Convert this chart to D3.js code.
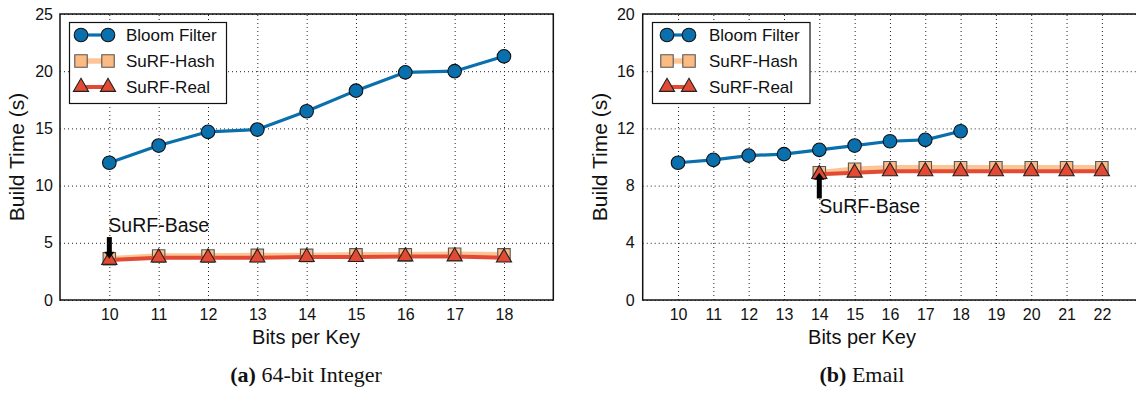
<!DOCTYPE html>
<html>
<head>
<meta charset="utf-8">
<script src="https://cdn.jsdelivr.net/npm/d3@7/dist/d3.min.js"></script>
<style>
  body { margin: 0; background: #fff; }
  svg { display: block; }
  .tick text { font-family: "Liberation Sans", Arial, sans-serif; font-size: 16px; fill: #111; }
</style>
</head>
<body>
<svg id="chart" width="1136" height="398"></svg>
<script>
// ---------- data ----------
const seriesNames = ["Bloom Filter", "SuRF-Hash", "SuRF-Real"];

// Panel (a) 64-bit Integer
const intBits = [10, 11, 12, 13, 14, 15, 16, 17, 18];
const intBloom = [12.0, 13.5, 14.7, 14.9, 16.5, 18.3, 19.9, 20.0, 21.3];
const intHash = [3.6, 3.85, 3.85, 3.9, 3.9, 3.95, 3.95, 4.0, 3.95];
const intReal = [3.5, 3.7, 3.7, 3.7, 3.75, 3.75, 3.8, 3.8, 3.7];
const intYTicks = [0, 5, 10, 15, 20, 25];
const intXTicks = [10, 11, 12, 13, 14, 15, 16, 17, 18];
const intBase = { x: 10, from: 5.5, to: 3.6 };

// Panel (b) Email
const emailBloomBits = [10, 11, 12, 13, 14, 15, 16, 17, 18];
const emailBloom = [9.6, 9.8, 10.1, 10.2, 10.5, 10.8, 11.1, 11.2, 11.8];
const emailSurfBits = [14, 15, 16, 17, 18, 19, 20, 21, 22];
const emailHash = [8.9, 9.15, 9.25, 9.25, 9.25, 9.25, 9.25, 9.25, 9.25];
const emailReal = [8.8, 8.9, 9.0, 9.0, 9.0, 9.0, 9.0, 9.0, 9.0];
const emailYTicks = [0, 4, 8, 12, 16, 20];
const emailXTicks = [10, 11, 12, 13, 14, 15, 16, 17, 18, 19, 20, 21, 22];
const emailBase = { x: 14, from: 7.1, to: 8.9 };

// ---------- styles ----------
const colors = { bloom: "#0a6fad", hash: "#fdbb84", real: "#e34a33" };
const FONT = '"Liberation Sans", Arial, sans-serif';
const SERIF = '"Liberation Serif", "DejaVu Serif", serif';

const svg = d3.select("#chart");
const plotTop = 14, plotBottom = 300;

function drawPanel(cfg) {
  const x = d3.scaleLinear().domain(cfg.xDomain).range([cfg.left, cfg.right]);
  const y = d3.scaleLinear().domain(cfg.yDomain).range([plotBottom, plotTop]);
  const g = svg.append("g");
  const clipId = "clip" + cfg.id;
  svg.append("clipPath").attr("id", clipId).append("rect")
    .attr("x", cfg.left).attr("y", plotTop).attr("width", cfg.right - cfg.left).attr("height", plotBottom - plotTop);

  // grid + x axis
  const xAxis = g.append("g").attr("transform", `translate(0,${plotBottom})`)
    .call(d3.axisBottom(x).tickValues(cfg.xTicks).tickSize(-(plotBottom - plotTop)).tickPadding(9).tickFormat(d3.format("d")));
  xAxis.select(".domain").remove();
  xAxis.selectAll(".tick line").attr("stroke", "#222").attr("stroke-dasharray", "1,3").attr("stroke-width", 1);

  const yAxis = g.append("g").attr("transform", `translate(${cfg.left},0)`)
    .call(d3.axisLeft(y).tickValues(cfg.yTicks).tickSize(-(cfg.right - cfg.left)).tickPadding(cfg.yPad).tickFormat(d3.format("d")));
  yAxis.select(".domain").remove();
  yAxis.selectAll(".tick line").attr("stroke", "#222").attr("stroke-dasharray", "1,3").attr("stroke-width", 1);

  // frame
  g.append("rect").attr("x", cfg.left).attr("y", plotTop)
    .attr("width", cfg.right - cfg.left).attr("height", plotBottom - plotTop)
    .attr("fill", "none").attr("stroke", "#111").attr("stroke-width", 1.5);

  const plot = g.append("g").attr("clip-path", `url(#${clipId})`);
  const line = d3.line().x(d => x(d[0])).y(d => y(d[1]));

  function series(xs, ys, color, lw, marker, lineOpacity) {
    const pts = xs.map((v, i) => [v, ys[i]]);
    plot.append("path").datum(pts).attr("d", line)
      .attr("fill", "none").attr("stroke", color).attr("stroke-width", lw)
      .attr("stroke-opacity", lineOpacity).attr("stroke-linejoin", "round");
    plot.selectAll(null).data(pts).enter().append("path")
      .attr("transform", d => `translate(${x(d[0])},${y(d[1])})`)
      .attr("d", marker.path)
      .attr("fill", color).attr("stroke", marker.stroke).attr("stroke-width", 1.1);
  }

  const circle = { path: d3.symbol(d3.symbolCircle, 145)(), stroke: "#111" };
  const square = { path: d3.symbol(d3.symbolSquare, 155)(), stroke: "#555" };
  const tri = { path: d3.symbol(d3.symbolTriangle, 100)(), stroke: "#222" };

  series(cfg.bloomX, cfg.bloom, colors.bloom, 3.2, circle, 1);
  series(cfg.surfX, cfg.hash, colors.hash, 5.5, square, 0.85);
  series(cfg.surfX, cfg.real, colors.real, 4, tri, 1);

  // SuRF-Base annotation arrow
  const b = cfg.base;
  const ax = x(b.x), y0 = y(b.from), y1 = y(b.to);
  const dir = Math.sign(y1 - y0);
  g.append("line").attr("x1", ax).attr("x2", ax).attr("y1", y0).attr("y2", y1 - dir * 6)
    .attr("stroke", "#000").attr("stroke-width", 5);
  g.append("path").attr("d", `M${ax - 5},${y1 - dir * 7} L${ax + 5},${y1 - dir * 7} L${ax},${y1} Z`).attr("fill", "#000");
  g.append("text").attr("x", x(b.x) + cfg.baseDx).attr("y", y(cfg.baseTextY))
    .attr("font-family", FONT).attr("font-size", 19.5).attr("fill", "#111").text("SuRF-Base");

  // legend
  const L = cfg.legend;
  g.append("rect").attr("x", L.x).attr("y", L.y).attr("width", L.w).attr("height", L.h)
    .attr("fill", "#fff").attr("stroke", "#111").attr("stroke-width", 1.2);
  const legItems = [
    { name: seriesNames[0], color: colors.bloom, lw: 3.2, m: circle, op: 1 },
    { name: seriesNames[1], color: colors.hash, lw: 5.5, m: square, op: 0.85 },
    { name: seriesNames[2], color: colors.real, lw: 4, m: tri, op: 1 }
  ];
  legItems.forEach((it, i) => {
    const yy = L.y + 12.5 + i * 26;
    g.append("line").attr("x1", L.mx0).attr("x2", L.mx1).attr("y1", yy).attr("y2", yy)
      .attr("stroke", it.color).attr("stroke-width", it.lw).attr("stroke-opacity", it.op);
    [L.mx0, L.mx1].forEach(mx => {
      g.append("path").attr("transform", `translate(${mx},${yy})`).attr("d", it.m.path)
        .attr("fill", it.color).attr("stroke", it.m.stroke).attr("stroke-width", 1.1);
    });
    g.append("text").attr("x", L.tx).attr("y", yy + 6).attr("font-family", FONT)
      .attr("font-size", 17).attr("fill", "#111").text(it.name);
  });

  // axis titles
  g.append("text").attr("transform", `translate(${cfg.yLabelX},${(plotTop + plotBottom) / 2}) rotate(-90)`)
    .attr("text-anchor", "middle").attr("font-family", FONT).attr("font-size", 21).attr("fill", "#111")
    .text("Build Time (s)");
  g.append("text").attr("x", cfg.xLabelCx).attr("y", 344).attr("text-anchor", "middle")
    .attr("font-family", FONT).attr("font-size", 20).attr("fill", "#111").text("Bits per Key");

  // caption
  const cap = g.append("text").attr("x", cfg.xLabelCx).attr("y", 382).attr("text-anchor", "middle")
    .attr("font-family", SERIF).attr("font-size", 22).attr("fill", "#111");
  cap.append("tspan").attr("font-weight", "bold").text(cfg.capTag);
  cap.append("tspan").text(" " + cfg.capText);
}

drawPanel({
  id: "a", left: 60, right: 553.3, xDomain: [9, 19], yDomain: [0, 25],
  xTicks: intXTicks, yTicks: intYTicks, yPad: 7,
  bloomX: intBits, bloom: intBloom, surfX: intBits, hash: intHash, real: intReal,
  base: intBase, baseDx: -1, baseTextY: 5.95,
  legend: { x: 69.5, y: 22.5, w: 157, h: 81, mx0: 81, mx1: 108, tx: 126 },
  yLabelX: 24, xLabelCx: 306, capTag: "(a)", capText: "64-bit Integer"
});

drawPanel({
  id: "b", left: 642.7, right: 1137.2, xDomain: [9, 23], yDomain: [0, 20],
  xTicks: emailXTicks, yTicks: emailYTicks, yPad: 8,
  bloomX: emailBloomBits, bloom: emailBloom, surfX: emailSurfBits, hash: emailHash, real: emailReal,
  base: emailBase, baseDx: 0, baseTextY: 6.1,
  legend: { x: 652.5, y: 22.5, w: 157.5, h: 81, mx0: 667, mx1: 689, tx: 709 },
  yLabelX: 607, xLabelCx: 862, capTag: "(b)", capText: "Email"
});
</script>
</body>
</html>
